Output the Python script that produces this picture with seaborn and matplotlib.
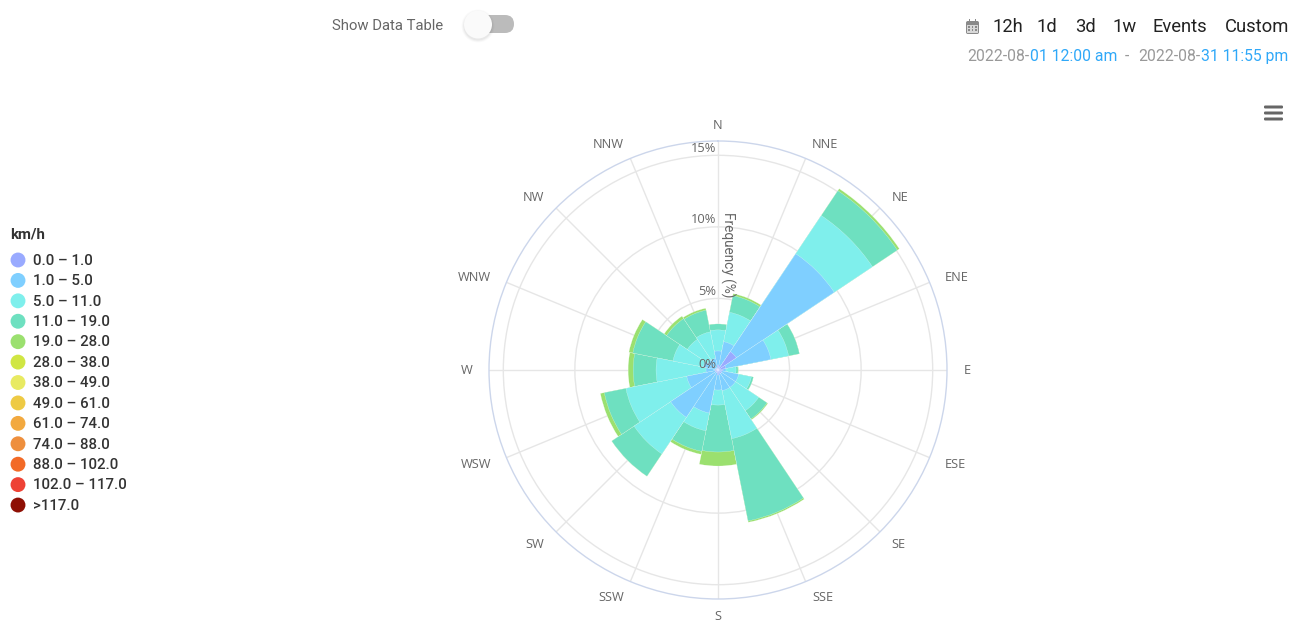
# Rosa dos ventos - agosto 2022
import numpy as np
import matplotlib
matplotlib.use('Agg')
import matplotlib.pyplot as plt
from matplotlib.patches import Circle, FancyBboxPatch, Rectangle
import seaborn as sns

direcoes = ['N', 'NNE', 'NE', 'ENE', 'E', 'ESE', 'SE', 'SSE',
            'S', 'SSW', 'SW', 'WSW', 'W', 'WNW', 'NW', 'NNW']

# frequencia (%) por faixa de velocidade
f_0_1   = [0.35, 0.28, 1.54, 0.56, 0.35, 0.28, 0.28, 0.28, 0.35, 0.21, 0.21, 0.21, 0.21, 0.14, 0.14, 0.14]
f_1_5   = [0.98, 1.74, 8.23, 3.21, 0.21, 1.19, 1.19, 1.19, 1.05, 2.86, 3.77, 2.02, 0.63, 0.91, 0.70, 0.70]
f_5_11  = [1.47, 2.09, 3.21, 1.26, 0.70, 0.91, 1.95, 3.42, 1.05, 1.26, 3.07, 4.33, 3.49, 2.16, 1.74, 1.88]
f_11_19 = [0.42, 1.19, 2.09, 0.77, 0.14, 0.14, 0.70, 5.86, 3.28, 1.47, 1.88, 1.54, 1.60, 2.86, 1.74, 1.54]
f_19_28 = [0.00, 0.14, 0.17, 0.00, 0.03, 0.00, 0.07, 0.10, 0.98, 0.21, 0.00, 0.28, 0.35, 0.28, 0.21, 0.14]

faixas = ['0.0 - 1.0', '1.0 - 5.0', '5.0 - 11.0', '11.0 - 19.0', '19.0 - 28.0', '28.0 - 38.0',
          '38.0 - 49.0', '49.0 - 61.0', '61.0 - 74.0', '74.0 - 88.0', '88.0 - 102.0',
          '102.0 - 117.0', '>117.0']
cores = ['#99aaff', '#7fcfff', '#7fefec', '#6ee0c0', '#9be06f', '#d0e643', '#e8ea62',
         '#eeca44', '#f2a93f', '#ee8f3d', '#f26a27', '#ee4235', '#8e0f04']
botoes = ['12h', '1d', '3d', '1w', 'Events', 'Custom']
botoes_x = [992, 1036, 1075, 1112, 1152, 1225]

sns.set_theme(style='white')
plt.rcParams['font.family'] = ['Roboto', 'DejaVu Sans']

W, H = 1305, 623
cx, cy, raio = 718, 370, 229
fig = plt.figure(figsize=(W / 100, H / 100), dpi=100)
ax = fig.add_axes([(cx - raio) / W, (H - cy - raio) / H, 2 * raio / W, 2 * raio / H], projection='polar')

theta = np.deg2rad(22.5 * np.arange(len(direcoes)))
series = [f_0_1, f_1_5, f_5_11, f_11_19, f_19_28]
acumulado = np.cumsum(np.array(series), axis=0)

# empilhado: desenha do maior acumulado para o menor
for i in range(len(series) - 1, -1, -1):
    sns.barplot(x=theta, y=acumulado[i], color=cores[i], saturation=1, native_scale=True,
                width=1, edgecolor='white', linewidth=0.15, ax=ax, zorder=3)

ax.set_theta_zero_location('N')
ax.set_theta_direction(-1)
ax.set_xlim(0, 2 * np.pi)
ax.set_ylim(0, 16)
ax.set_xlabel('')
ax.set_ylabel('')
ax.set_xticks(theta)
ax.set_xticklabels([])
ax.set_yticks([5, 10, 15])
ax.set_yticklabels([])
ax.set_axisbelow(True)
ax.grid(True, color='#e6e6e6', linewidth=1)
ax.tick_params(length=0)
ax.spines['polar'].set_color('#ccd6eb')
ax.spines['polar'].set_linewidth(1)

# rotulos ancorados como no highcharts: esquerda/direita conforme o lado
for k, (t, nome) in enumerate(zip(theta, direcoes)):
    alinha = 'center' if k in (0, 8) else ('left' if k < 8 else 'right')
    ax.annotate(nome, (t, 17.15), xytext=(0, -1), textcoords='offset pixels', ha=alinha, va='center',
                fontsize=9.2, color='#666666', annotation_clip=False,
                family=['Open Sans', 'DejaVu Sans'])
for v, dy in [(0, 6), (5, 7), (10, 7), (15, 7)]:
    ax.annotate(f'{v}%', (0, v), xytext=(-2, dy), textcoords='offset pixels', ha='right', va='center',
                fontsize=9.3, color='#666666', zorder=6, annotation_clip=False,
                family=['Open Sans', 'DejaVu Sans'])
ax.text(np.deg2rad(4.8), 8.1, 'Frequency (%)', rotation=270, ha='center', va='center', fontsize=9.8,
        color='#666666', zorder=6, rotation_mode='anchor')

# camada da interface, em coordenadas de pixel
ui = fig.add_axes([0, 0, 1, 1], facecolor='none')
ui.set_xlim(0, W)
ui.set_ylim(H, 0)
ui.axis('off')

# legenda
ui.text(10, 234.5, 'km/h', fontsize=10.8, fontweight='bold', color='#333333', va='center')
legenda_y = 260 + 20.42 * np.arange(len(faixas))
sns.scatterplot(x=[18] * len(faixas), y=legenda_y, hue=faixas, hue_order=faixas, palette=cores,
                s=115, linewidth=0, legend=False, ax=ui, clip_on=False)
ui.set_xlim(0, W)
ui.set_ylim(H, 0)
for y, nome in zip(legenda_y, faixas):
    ui.text(33, y + 0.8, nome.replace(' - ', ' – '), fontsize=10.8, fontweight='medium', color='#333333', va='center')

# interruptor
ui.text(332, 26, 'Show Data Table', fontsize=10.7, color='#666666', va='center')
ui.add_patch(FancyBboxPatch((478, 15), 36, 18, boxstyle='round,pad=0,rounding_size=9', fc='#bbbbbb', lw=0))
for r, a in [(16.5, 0.02), (15.5, 0.03), (14.5, 0.04)]:
    ui.add_patch(Circle((478, 26), r, fc='black', alpha=a, lw=0))
ui.add_patch(Circle((478, 24.5), 14, fc='#fafafa', lw=0))

# botoes de periodo
for x, nome in zip(botoes_x, botoes):
    ui.text(x, 26.5, nome, fontsize=13.2, color='#222222', va='center')
ui.add_patch(FancyBboxPatch((966, 21), 13, 13, boxstyle='round,pad=0,rounding_size=1.8', fc='#8a8a8a', lw=0))
ui.add_patch(Rectangle((967.3, 25), 10.4, 7.6, fc='#d8d8d8', lw=0))
for dx in [968.4, 971.6, 974.8]:
    for dy in [26.2, 29.2]:
        ui.add_patch(Rectangle((dx, dy), 1.8, 1.6, fc='#8a8a8a', lw=0))
for dx in [968.8, 975]:
    ui.add_patch(Rectangle((dx, 19), 1.3, 3, fc='#8a8a8a', lw=0))

# intervalo de datas
cinza, azul = '#999999', '#2fa8f8'
for x, txt, c in [(967, '2022-08-', cinza), (1030, '01 12:00 am', azul), (1125, '-', cinza),
                  (1138, '2022-08-', cinza), (1201, '31 11:55 pm', azul)]:
    ui.text(x, 56.5, txt, fontsize=11.3, color=c, va='center')

# menu
for y in [107, 113, 119]:
    ui.add_patch(FancyBboxPatch((1264, y - 1.5), 19, 3, boxstyle='round,pad=0,rounding_size=1.2', fc='#666666', lw=0))

fig.savefig('out.png', dpi=100, facecolor='white')
